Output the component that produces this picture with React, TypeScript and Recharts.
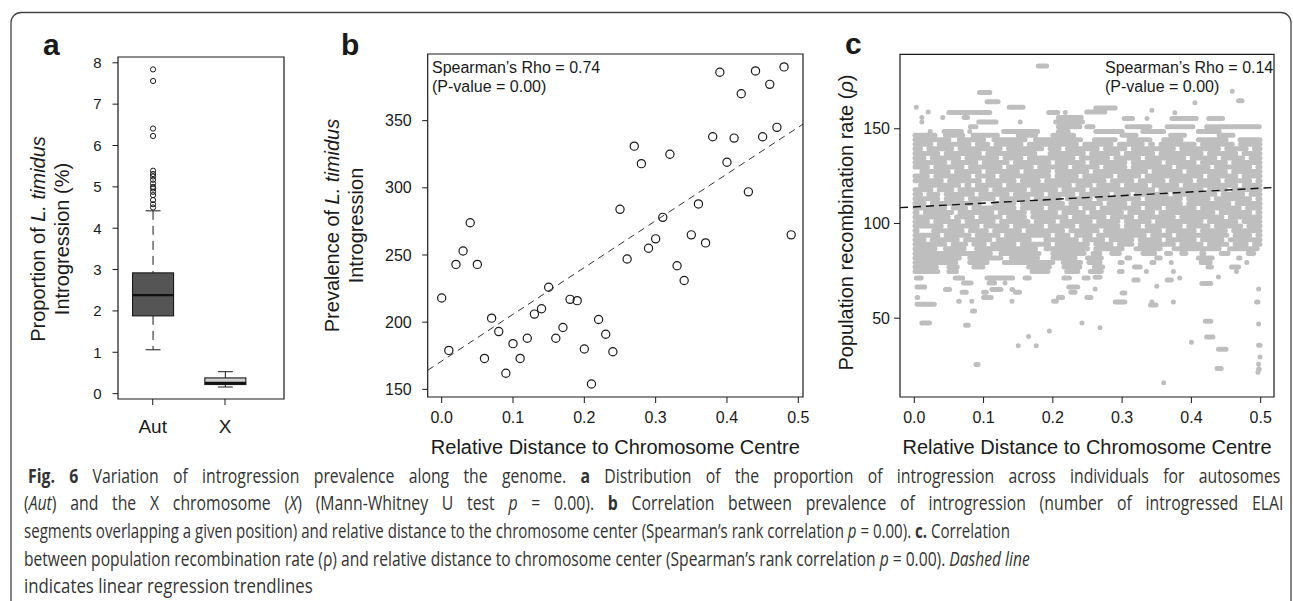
import React from "react";
import {
  ComposedChart,
  ScatterChart,
  Scatter,
  Bar,
  Cell,
  Line,
  XAxis,
  YAxis,
  Label,
  ReferenceArea,
  ReferenceLine,
} from "recharts";

const FONT = "'Liberation Sans', Arial, Helvetica, sans-serif";
const CAPTION_FONT = "'Open Sans', 'Noto Sans', sans-serif";
const INK = "#1a1a1a";

// ---- panel a: box plots ----
const BOX_CATS = ["Aut", "X"];
const BOX_LO = [1.06, 0.16];
const BOX_Q1 = [1.88, 0.22];
const BOX_MED = [2.38, 0.26];
const BOX_Q3 = [2.92, 0.38];
const BOX_HI = [4.42, 0.53];
const AUT_OUTLIERS = [4.5, 4.58, 4.68, 4.8, 4.88, 4.96, 5.0, 5.08, 5.17, 5.25, 5.31, 5.39, 6.23, 6.41, 7.56, 7.84];
const A_TICKS = [0, 1, 2, 3, 4, 5, 6, 7, 8];

// ---- panel b: prevalence vs distance ----
const B_X = [
  0.0, 0.01, 0.02, 0.03, 0.04, 0.05, 0.06, 0.07, 0.08, 0.09,
  0.1, 0.11, 0.12, 0.13, 0.14, 0.15, 0.16, 0.17, 0.18, 0.19,
  0.2, 0.21, 0.22, 0.23, 0.24, 0.25, 0.26, 0.27, 0.28, 0.29,
  0.3, 0.31, 0.32, 0.33, 0.34, 0.35, 0.36, 0.37, 0.38, 0.39,
  0.4, 0.41, 0.42, 0.43, 0.44, 0.45, 0.46, 0.47, 0.48, 0.49,
];
const B_Y = [
  218, 179, 243, 253, 274, 243, 173, 203, 193, 162,
  184, 173, 188, 206, 210, 226, 188, 196, 217, 216,
  180, 154, 202, 191, 178, 284, 247, 331, 318, 255,
  262, 278, 325, 242, 231, 265, 288, 259, 338, 386,
  319, 337, 370, 297, 387, 338, 377, 345, 390, 265,
];
const B_TREND = [
  { x: -0.0196, y: 164.2 },
  { x: 0.5066, y: 347.4 },
];
const B_XTICKS = [0, 0.1, 0.2, 0.3, 0.4, 0.5];
const B_YTICKS = [150, 200, 250, 300, 350];

// ---- panel c: recombination rate vs distance ----
// dense core rows: [y, x of the white holes inside the row]
const C_CORE_HOLES: [number, number[]][] = [
  [141.8, [0.03, 0.085, 0.112, 0.16, 0.24, 0.29, 0.335, 0.35, 0.41, 0.465]],
  [139.4, [0.015, 0.06, 0.13, 0.19, 0.215, 0.27, 0.31, 0.38, 0.445, 0.485]],
  [137.0, [0.04, 0.1, 0.18, 0.19, 0.25, 0.3, 0.35, 0.42, 0.47]],
  [134.6, [0.02, 0.07, 0.125, 0.16, 0.235, 0.285, 0.33, 0.395, 0.44, 0.48]],
  [132.2, [0.05, 0.095, 0.14, 0.2, 0.25, 0.31, 0.36, 0.41, 0.455]],
  [129.8, [0.025, 0.075, 0.13, 0.175, 0.225, 0.27, 0.31, 0.375, 0.43, 0.49]],
  [127.4, [0.005, 0.055, 0.1, 0.155, 0.2, 0.255, 0.34, 0.39, 0.455]],
  [125.0, [0.025, 0.085, 0.12, 0.2, 0.24, 0.29, 0.33, 0.42, 0.47]],
  [122.6, [0.045, 0.1, 0.15, 0.185, 0.28, 0.32, 0.365, 0.405, 0.445, 0.49]],
  [120.2, [0.003, 0.07, 0.085, 0.13, 0.23, 0.26, 0.3, 0.34, 0.385, 0.47]],
  [117.8, [0.03, 0.06, 0.11, 0.165, 0.21, 0.25, 0.35, 0.42, 0.455]],
  [115.4, [0.015, 0.04, 0.09, 0.14, 0.19, 0.235, 0.285, 0.315, 0.37, 0.44, 0.48]],
  [113.0, [0.04, 0.075, 0.12, 0.17, 0.215, 0.26, 0.33, 0.39, 0.43, 0.49]],
  [110.6, [0.02, 0.1, 0.11, 0.15, 0.22, 0.275, 0.31, 0.39, 0.46]],
  [108.2, [0.05, 0.08, 0.15, 0.19, 0.24, 0.265, 0.33, 0.36, 0.41, 0.475]],
  [105.8, [0.01, 0.06, 0.118, 0.165, 0.21, 0.25, 0.305, 0.35, 0.437, 0.49]],
  [103.4, [0.055, 0.09, 0.13, 0.165, 0.225, 0.28, 0.32, 0.38, 0.45]],
  [101.0, [0.025, 0.07, 0.12, 0.17, 0.207, 0.26, 0.3, 0.345, 0.42, 0.47]],
  [98.6, [0.045, 0.097, 0.14, 0.19, 0.235, 0.3, 0.33, 0.39, 0.43, 0.477]],
  [96.2, [0.01, 0.022, 0.075, 0.11, 0.158, 0.22, 0.27, 0.36, 0.41, 0.455]],
  [93.8, [0.04, 0.085, 0.127, 0.2, 0.228, 0.26, 0.338, 0.375, 0.457, 0.49]],
  [91.4, [0.02, 0.068, 0.115, 0.172, 0.184, 0.24, 0.278, 0.32, 0.36, 0.41, 0.45]],
  [89.0, [0.05, 0.08, 0.107, 0.15, 0.2, 0.256, 0.29, 0.32, 0.38, 0.42, 0.457, 0.485]],
];

// ragged edges of the core: [y, runs of x]
const C_EDGE_RUNS: [number, [number, number][]][] = [
  [146.6, [[0.001, 0.03], [0.045, 0.07], [0.085, 0.12], [0.15, 0.175], [0.2, 0.23], [0.3, 0.32], [0.37, 0.39], [0.44, 0.46]]],
  [144.2, [[0.001, 0.05], [0.065, 0.1], [0.115, 0.16], [0.175, 0.24], [0.26, 0.29], [0.31, 0.34], [0.36, 0.385], [0.41, 0.45], [0.47, 0.499]]],
  [86.6, [[0.001, 0.03], [0.045, 0.072], [0.09, 0.175], [0.19, 0.25], [0.262, 0.3], [0.32, 0.355], [0.375, 0.44], [0.455, 0.495]]],
  [84.2, [[0.001, 0.11], [0.125, 0.18], [0.2, 0.245], [0.258, 0.268], [0.285, 0.296], [0.33, 0.347], [0.364, 0.37], [0.386, 0.392], [0.415, 0.418], [0.443, 0.453], [0.482, 0.49]]],
  [81.8, [[0.001, 0.065], [0.08, 0.125], [0.14, 0.178], [0.2, 0.232], [0.25, 0.27], [0.307, 0.311], [0.35, 0.355], [0.41, 0.43], [0.468, 0.47]]],
  [79.4, [[0.001, 0.06], [0.08, 0.105], [0.13, 0.2], [0.215, 0.24], [0.252, 0.268], [0.297, 0.3], [0.343, 0.346], [0.371, 0.371], [0.414, 0.427], [0.48, 0.48]]],
  [77.0, [[0.001, 0.032], [0.05, 0.062], [0.086, 0.099], [0.165, 0.195], [0.216, 0.239], [0.26, 0.272], [0.318, 0.326], [0.424, 0.429], [0.458, 0.468]]],
  [74.6, [[0.001, 0.034], [0.05, 0.061], [0.17, 0.193], [0.22, 0.236], [0.254, 0.27], [0.296, 0.3], [0.335, 0.335], [0.374, 0.374], [0.465, 0.465]]],
];

// sparse points above the core: [y, x1, x2]
const C_UPPER: [number, number, number][] = [
  [183.1, 0.179, 0.191],
  [169.2, 0.094, 0.109],
  [169.8, 0.459, 0.459],
  [164.2, 0.105, 0.121],
  [164.8, 0.468, 0.473],
  [163.7, 0.405, 0.405],
  [161.4, 0.003, 0.003],
  [161.4, 0.137, 0.157],
  [161.0, 0.262, 0.29],
  [158.8, 0.02, 0.02],
  [158.6, 0.05, 0.109],
  [158.6, 0.194, 0.207],
  [158.6, 0.218, 0.218],
  [158.8, 0.249, 0.275],
  [159.8, 0.343, 0.343],
  [158.4, 0.376, 0.376],
  [156.0, 0.011, 0.011],
  [156.0, 0.041, 0.041],
  [156.0, 0.072, 0.077],
  [156.0, 0.208, 0.241],
  [153.6, 0.011, 0.011],
  [153.6, 0.093, 0.118],
  [153.6, 0.153, 0.153],
  [153.6, 0.204, 0.243],
  [155.4, 0.303, 0.315],
  [155.4, 0.336, 0.336],
  [155.4, 0.372, 0.407],
  [155.4, 0.425, 0.445],
  [151.0, 0.081, 0.089],
  [151.0, 0.208, 0.239],
  [151.0, 0.249, 0.258],
  [151.0, 0.307, 0.34],
  [151.0, 0.365, 0.402],
  [151.0, 0.422, 0.498],
  [148.6, 0.023, 0.023],
  [148.6, 0.043, 0.068],
  [148.6, 0.08, 0.08],
  [148.6, 0.129, 0.178],
  [148.6, 0.208, 0.222],
  [148.6, 0.262, 0.3],
  [148.6, 0.33, 0.36],
  [148.6, 0.41, 0.44],
];

// sparse points below the core: [y, x1, x2]
const C_LOWER: [number, number, number][] = [
  [71.6, 0.261, 0.268],
  [71.2, 0.003, 0.01],
  [71.2, 0.059, 0.07],
  [71.2, 0.105, 0.142],
  [71.2, 0.16, 0.166],
  [71.2, 0.216, 0.224],
  [71.2, 0.245, 0.251],
  [70.2, 0.317, 0.323],
  [70.2, 0.365, 0.371],
  [71.2, 0.383, 0.383],
  [71.8, 0.439, 0.439],
  [68.3, 0.415, 0.428],
  [68.6, 0.071, 0.082],
  [68.6, 0.108, 0.116],
  [68.6, 0.131, 0.131],
  [66.8, 0.35, 0.35],
  [66.5, 0.004, 0.015],
  [66.5, 0.223, 0.236],
  [65.4, 0.261, 0.261],
  [65.4, 0.497, 0.497],
  [65.1, 0.045, 0.051],
  [65.1, 0.112, 0.125],
  [65.1, 0.141, 0.142],
  [63.7, 0.069, 0.075],
  [63.7, 0.1, 0.104],
  [63.7, 0.146, 0.152],
  [63.7, 0.226, 0.232],
  [63.3, 0.3, 0.304],
  [60.9, 0.004, 0.005],
  [60.9, 0.1, 0.111],
  [60.9, 0.208, 0.214],
  [60.9, 0.249, 0.255],
  [58.9, 0.064, 0.065],
  [58.9, 0.083, 0.083],
  [58.9, 0.141, 0.141],
  [58.9, 0.201, 0.205],
  [58.6, 0.29, 0.304],
  [58.6, 0.343, 0.343],
  [58.6, 0.374, 0.374],
  [58.6, 0.494, 0.496],
  [57.4, 0.004, 0.029],
  [56.9, 0.341, 0.349],
  [53.8, 0.084, 0.087],
  [48.4, 0.42, 0.428],
  [47.5, 0.011, 0.022],
  [47.5, 0.242, 0.242],
  [46.9, 0.497, 0.497],
  [46.3, 0.074, 0.078],
  [45.0, 0.268, 0.268],
  [43.3, 0.195, 0.195],
  [40.3, 0.165, 0.165],
  [40.1, 0.422, 0.431],
  [37.3, 0.4, 0.4],
  [35.7, 0.497, 0.499],
  [35.5, 0.15, 0.15],
  [35.5, 0.176, 0.176],
  [33.6, 0.439, 0.45],
  [29.5, 0.499, 0.499],
  [25.7, 0.497, 0.497],
  [25.5, 0.089, 0.092],
  [23.4, 0.437, 0.443],
  [23.0, 0.497, 0.498],
  [21.5, 0.496, 0.496],
  [15.9, 0.36, 0.36],
];
const C_TREND = [
  { x: -0.0206, y: 108.35 },
  { x: 0.5192, y: 119.0 },
];
const C_YTICKS = [50, 100, 150];

// caption lines: [text, style]
const CAPTION: [string, string][][] = [
  [["Fig. 6", "b"], [" Variation of introgression prevalence along the genome. ", ""], ["a", "b"], [" Distribution of the proportion of introgression across individuals for autosomes", ""]],
  [["(", ""], ["Aut", "i"], [") and the X chromosome (", ""], ["X", "i"], [") (Mann-Whitney U test ", ""], ["p", "i"], [" = 0.00). ", ""], ["b", "b"], [" Correlation between prevalence of introgression (number of introgressed ELAI", ""]],
  [["segments overlapping a given position) and relative distance to the chromosome center (Spearman\u2019s rank correlation ", ""], ["p", "i"], [" = 0.00). ", ""], ["c.", "b"], [" Correlation", ""]],
  [["between population recombination rate (\u03c1) and relative distance to chromosome center (Spearman\u2019s rank correlation ", ""], ["p", "i"], [" = 0.00). ", ""], ["Dashed line", "i"]],
  [["indicates linear regression trendlines", ""]],
];
const CAPTION_WIDTHS = [1253, 1260, 987, 1006, 289];
const CAPTION_JUSTIFIED = [true, true, false, false, false];

const BOX_COLORS = ["#555555", "#d0d0d0"];
const HOLE = 0.012;

const boxData = BOX_CATS.map((name, i) => ({
  pos: i + 1,
  name,
  lo: BOX_LO[i],
  q1: BOX_Q1[i],
  med: BOX_MED[i],
  q3: BOX_Q3[i],
  hi: BOX_HI[i],
  out: i === 0 ? AUT_OUTLIERS : [],
}));

const bData = B_X.map((x, i) => ({ x, y: B_Y[i] }));

function holesToRuns(holes: number[]): [number, number][] {
  const runs: [number, number][] = [];
  let start = 0.001;
  for (const h of holes) {
    if (h - HOLE / 2 > start) runs.push([start, h - HOLE / 2]);
    start = h + HOLE / 2;
  }
  runs.push([start, 0.499]);
  return runs;
}

const cRows: [number, [number, number][]][] = [
  ...C_CORE_HOLES.map(([y, holes]) => [y, holesToRuns(holes)] as [number, [number, number][]]),
  ...C_EDGE_RUNS,
];
const cSegments: [number, number, number][] = [
  ...cRows.flatMap(([y, runs]) => runs.map(([x1, x2]) => [y, x1, x2] as [number, number, number])),
  ...C_UPPER,
  ...C_LOWER,
];
const cLineData = cSegments.flatMap(([y, x1, x2]) => [
  { x: x1, y },
  { x: x2, y },
  { x: x2, y: null },
]);

// draws a whole box plot from the range bar (q1..q3) rectangle
function BoxShape(props: any) {
  const { x, y, width, height, payload, fill } = props;
  const top = Math.min(y, y + height);
  const h = Math.abs(height);
  const k = h / (payload.q3 - payload.q1);
  const py = (v: number) => top + (payload.q3 - v) * k;
  const cx = x + width / 2;
  const cap = 7.5;
  return (
    <g>
      <line x1={cx} x2={cx} y1={py(payload.hi)} y2={top} stroke={INK} strokeDasharray="9 6" />
      <line x1={cx} x2={cx} y1={top + h} y2={py(payload.lo)} stroke={INK} strokeDasharray="9 6" />
      <line x1={cx - cap} x2={cx + cap} y1={py(payload.hi)} y2={py(payload.hi)} stroke={INK} />
      <line x1={cx - cap} x2={cx + cap} y1={py(payload.lo)} y2={py(payload.lo)} stroke={INK} />
      <rect x={x} y={top} width={width} height={h} fill={fill} stroke={INK} strokeWidth={1.1} />
      <line x1={x} x2={x + width} y1={py(payload.med)} y2={py(payload.med)} stroke="#111" strokeWidth={2.2} />
      {payload.out.map((v: number, i: number) => (
        <circle key={i} cx={cx} cy={py(v)} r={2.6} fill="none" stroke={INK} strokeWidth={1} />
      ))}
    </g>
  );
}

function Ring(props: any) {
  const { cx, cy } = props;
  return <circle cx={cx} cy={cy} r={4.1} fill="none" stroke={INK} strokeWidth={1.2} />;
}

const tick15 = { fontSize: 15, fill: INK, fontFamily: FONT };
const tick16 = { fontSize: 16, fill: INK, fontFamily: FONT };
const fmt1 = (v: number) => v.toFixed(1);

function PanelA() {
  return (
    <ComposedChart width={330} height={470} data={boxData} margin={{ top: 57, right: 46, bottom: 31, left: 0 }}>
      <XAxis
        dataKey="pos"
        type="number"
        domain={[0.52, 2.816]}
        allowDataOverflow
        ticks={[1, 2]}
        tickFormatter={(v) => BOX_CATS[v - 1]}
        height={40}
        axisLine={false}
        tickSize={6}
        tickMargin={14.5}
        tick={{ fontSize: 19, fill: INK, fontFamily: FONT }}
        tickLine={{ stroke: INK }}
      />
      <YAxis
        type="number"
        domain={[-0.13, 8.14]}
        allowDataOverflow
        ticks={A_TICKS}
        width={118}
        axisLine={false}
        tickSize={5.5}
        tickMargin={11}
        tick={tick15}
        tickLine={{ stroke: INK }}
      />
      <ReferenceArea x1={0.52} x2={2.816} y1={-0.13} y2={8.14} fill="none" stroke={INK} strokeWidth={1.2} />
      <Bar dataKey={(d: any) => [d.q1, d.q3]} barSize={41} shape={BoxShape} isAnimationActive={false}>
        {boxData.map((d, i) => (
          <Cell key={d.name} fill={BOX_COLORS[i]} />
        ))}
      </Bar>
    </ComposedChart>
  );
}

function PanelB() {
  return (
    <ScatterChart width={500} height={470} margin={{ top: 54, right: 27, bottom: 13, left: 37.7 }}>
      <XAxis
        type="number"
        dataKey="x"
        domain={[-0.0196, 0.5066]}
        allowDataOverflow
        ticks={B_XTICKS}
        tickFormatter={fmt1}
        height={60}
        axisLine={false}
        tickSize={6}
        tickMargin={8.8}
        tick={tick16}
        tickLine={{ stroke: INK }}
      >
        <Label value="Relative Distance to Chromosome Centre" position="insideBottom" offset={3} fontSize={20} fill={INK} fontFamily={FONT} />
      </XAxis>
      <YAxis
        type="number"
        dataKey="y"
        domain={[144.3, 399.6]}
        allowDataOverflow
        ticks={B_YTICKS}
        width={60}
        axisLine={false}
        tickSize={5.5}
        tickMargin={10.5}
        tick={tick16}
        tickLine={{ stroke: INK }}
      />
      <ReferenceArea x1={-0.0196} x2={0.5066} y1={144.3} y2={399.6} fill="none" stroke={INK} strokeWidth={1.2} />
      <ReferenceLine segment={B_TREND} stroke="#333" strokeWidth={1} strokeDasharray="7 5" ifOverflow="hidden" />
      <Scatter data={bData} shape={Ring} isAnimationActive={false} />
    </ScatterChart>
  );
}

function PanelC() {
  return (
    <ComposedChart width={463} height={470} data={cLineData} margin={{ top: 54.3, right: 19, bottom: 13, left: 10 }}>
      <XAxis
        type="number"
        dataKey="x"
        domain={[-0.0206, 0.5192]}
        allowDataOverflow
        ticks={B_XTICKS}
        tickFormatter={fmt1}
        height={60}
        axisLine={false}
        tickSize={6}
        tickMargin={8.8}
        tick={tick16}
        tickLine={{ stroke: INK }}
      >
        <Label value="Relative Distance to Chromosome Centre" position="insideBottom" offset={3} fontSize={20} fill={INK} fontFamily={FONT} />
      </XAxis>
      <YAxis
        type="number"
        domain={[8.4, 189.3]}
        allowDataOverflow
        ticks={C_YTICKS}
        width={60}
        axisLine={false}
        tickSize={6}
        tickMargin={4}
        tick={tick16}
        tickLine={{ stroke: INK }}
      />
      <ReferenceArea x1={-0.0206} x2={0.5192} y1={8.4} y2={189.3} fill="none" stroke={INK} strokeWidth={1.2} />
      <Line
        dataKey="y"
        stroke="#bebebe"
        strokeWidth={5}
        strokeLinecap="round"
        dot={false}
        activeDot={false}
        connectNulls={false}
        isAnimationActive={false}
      />
      <ReferenceLine segment={C_TREND} stroke="#111" strokeWidth={1.4} strokeDasharray="8 5" ifOverflow="hidden" />
    </ComposedChart>
  );
}

const CAP_SIZE = 19.5;

function measureLine(parts: [string, string][]): number {
  const ctx = document.createElement("canvas").getContext("2d");
  if (!ctx) return 0;
  let w = 0;
  for (const [t, s] of parts) {
    ctx.font = `${s === "i" ? "italic " : ""}${s === "b" ? "700" : "400"} ${CAP_SIZE}px ${CAPTION_FONT}`;
    w += ctx.measureText(t).width;
  }
  return w;
}

function Caption() {
  const natural = CAPTION.map(measureLine);
  const ragged = CAPTION_WIDTHS.map((w, i) => (natural[i] > 0 ? w / natural[i] : 0.86)).filter(
    (_, i) => !CAPTION_JUSTIFIED[i]
  );
  const baseScale = (ragged.slice(0, 2).reduce((a, b) => a + b, 0) / 2) * 1.03;
  return (
    <g>
      {CAPTION.map((parts, li) => {
        const target = CAPTION_WIDTHS[li];
        let sx = natural[li] > 0 ? target / natural[li] : 0.86;
        let ws = 0;
        if (CAPTION_JUSTIFIED[li]) {
          sx = baseScale;
          const spaces = parts.reduce((n, [t]) => n + (t.match(/ /g) || []).length, 0);
          ws = Math.max(0, (target - natural[li] * sx) / spaces / sx);
        }
        const x = li === 0 ? 28 : 24;
        const y = 482.5 + li * 27.7;
        return (
          <text
            key={li}
            transform={`translate(${x},${y}) scale(${sx},1)`}
            fontSize={CAP_SIZE}
            fill="#333"
            fontFamily={CAPTION_FONT}
            style={{ wordSpacing: `${ws}px` }}
          >
            {parts.map(([t, s], j) => (
              <tspan key={j} fontWeight={s === "b" ? 700 : 400} fontStyle={s === "i" ? "italic" : "normal"}>
                {t}
              </tspan>
            ))}
          </text>
        );
      })}
    </g>
  );
}

function Overlay() {
  const lab = { fontFamily: FONT, fill: INK };
  return (
    <svg width={1293} height={601} style={{ position: "absolute", left: 0, top: 0, pointerEvents: "none" }}>
      <rect x={11} y={12.5} width={1280} height={640} rx={10} fill="none" stroke="#444" strokeWidth={1.3} />

      <text x={43} y={55} fontSize={30} fontWeight="bold" {...lab}>a</text>
      <text x={341} y={55} fontSize={30} fontWeight="bold" {...lab}>b</text>
      <text x={845} y={54} fontSize={30} fontWeight="bold" {...lab}>c</text>

      <text transform="translate(45,239) rotate(-90)" textAnchor="middle" fontSize={20} {...lab}>
        Proportion of <tspan fontStyle="italic">L. timidus</tspan>
      </text>
      <text transform="translate(68.5,239) rotate(-90)" textAnchor="middle" fontSize={20} {...lab}>
        Introgression (%)
      </text>

      <text transform="translate(338.5,225.5) rotate(-90)" textAnchor="middle" fontSize={20} {...lab}>
        Prevalence of <tspan fontStyle="italic">L. timidus</tspan>
      </text>
      <text transform="translate(362.5,225.5) rotate(-90)" textAnchor="middle" fontSize={20} {...lab}>
        Introgression
      </text>

      <text transform="translate(853,222.5) rotate(-90)" textAnchor="middle" fontSize={20} {...lab}>
        Population recombination rate (<tspan fontStyle="italic">{"\u03c1"}</tspan>)
      </text>

      <text x={432} y={73} fontSize={16} {...lab}>Spearman{"\u2019"}s Rho = 0.74</text>
      <text x={432} y={91.5} fontSize={16} {...lab}>(P-value = 0.00)</text>
      <text x={1105} y={73} fontSize={16} {...lab}>Spearman{"\u2019"}s Rho = 0.14</text>
      <text x={1105} y={91.5} fontSize={16} {...lab}>(P-value = 0.00)</text>

      <Caption />
    </svg>
  );
}

export default function App() {
  return (
    <div style={{ position: "absolute", left: 0, top: 0, width: 1293, height: 601, background: "#fff", overflow: "hidden" }}>
      <div style={{ position: "absolute", left: 0, top: 0 }}>
        <PanelA />
      </div>
      <div style={{ position: "absolute", left: 330, top: 0 }}>
        <PanelB />
      </div>
      <div style={{ position: "absolute", left: 830, top: 0 }}>
        <PanelC />
      </div>
      <Overlay />
    </div>
  );
}
